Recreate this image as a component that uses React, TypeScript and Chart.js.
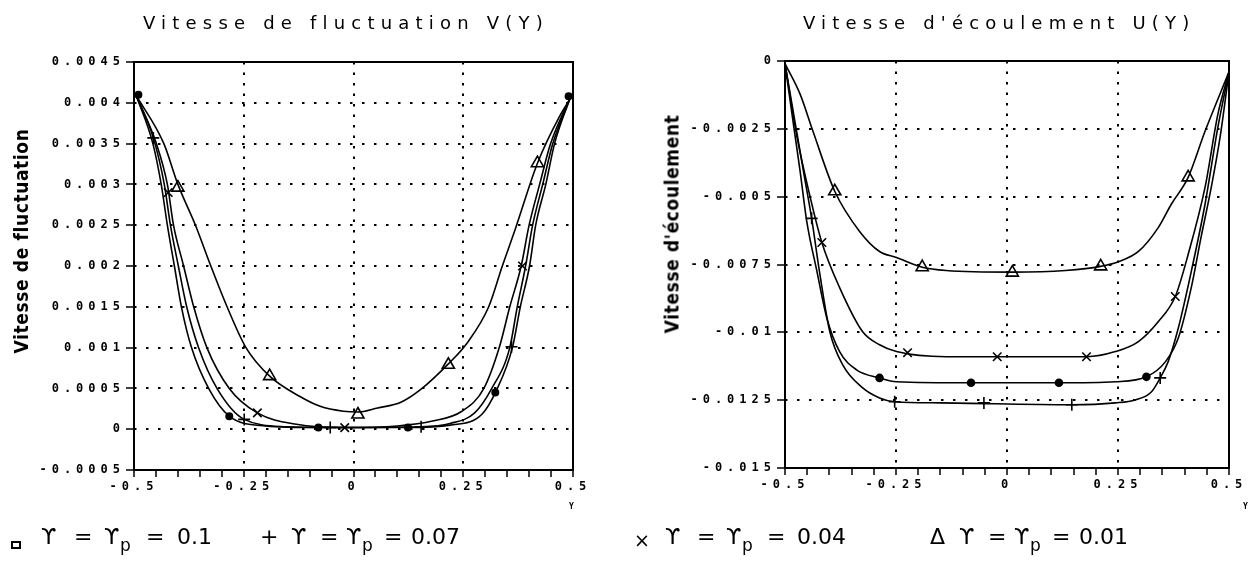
import React, { useEffect, useRef } from "react";
import { Chart, registerables } from "chart.js";

Chart.register(...registerables);

// ---------- axis ticks ----------
const X_TICKS = [-0.5, -0.45, -0.4, -0.35, -0.3, -0.25, -0.2, -0.15, -0.1, -0.05, 0, 0.05, 0.1, 0.15, 0.2, 0.25, 0.3, 0.35, 0.4, 0.45, 0.5];
const X_MAJOR = [-0.5, -0.25, 0, 0.25, 0.5];
const X_MAJOR_LABELS = ["-0.5", "-0.25", "0", "0.25", "0.5"];

const V_TICKS = [-0.0005, 0, 0.0005, 0.001, 0.0015, 0.002, 0.0025, 0.003, 0.0035, 0.004, 0.0045];
const V_TICK_LABELS = ["-0.0005", "0", "0.0005", "0.001", "0.0015", "0.002", "0.0025", "0.003", "0.0035", "0.004", "0.0045"];
const U_TICKS = [-0.015, -0.0125, -0.01, -0.0075, -0.005, -0.0025, 0];
const U_TICK_LABELS = ["-0.015", "-0.0125", "-0.01", "-0.0075", "-0.005", "-0.0025", "0"];

// ---------- left chart: V(Y) curves ----------
const V_G01 = [[-0.495, 0.00409], [-0.457, 0.0035], [-0.438, 0.003], [-0.424, 0.0025], [-0.408, 0.002], [-0.392, 0.0015], [-0.369, 0.001], [-0.33, 0.0005], [-0.283, 0.00016], [-0.2, 0.00004], [-0.08, 0.00002], [0.124, 0.00002], [0.22, 0.00005], [0.292, 0.00018], [0.325, 0.00047], [0.362, 0.001], [0.38, 0.0015], [0.401, 0.002], [0.415, 0.0025], [0.438, 0.003], [0.458, 0.0035], [0.495, 0.00408]];
const V_G007 = [[-0.495, 0.00409], [-0.456, 0.00357], [-0.431, 0.003], [-0.417, 0.0025], [-0.399, 0.002], [-0.38, 0.0015], [-0.353, 0.001], [-0.311, 0.0005], [-0.249, 0.00012], [-0.15, 0.00003], [-0.053, 0.00002], [0.154, 0.00003], [0.22, 0.00007], [0.276, 0.0002], [0.315, 0.0005], [0.356, 0.001], [0.373, 0.0015], [0.392, 0.002], [0.408, 0.0025], [0.431, 0.003], [0.454, 0.0035], [0.495, 0.00408]];
const V_G004 = [[-0.495, 0.00409], [-0.449, 0.0035], [-0.424, 0.003], [-0.41, 0.0025], [-0.387, 0.002], [-0.364, 0.0015], [-0.334, 0.001], [-0.283, 0.0005], [-0.219, 0.0002], [-0.13, 0.00006], [-0.02, 0.00002], [0.1, 0.00004], [0.18, 0.0001], [0.247, 0.00022], [0.297, 0.0005], [0.332, 0.001], [0.356, 0.0015], [0.382, 0.002], [0.4, 0.0025], [0.424, 0.003], [0.449, 0.0035], [0.495, 0.00408]];
const V_G001 = [[-0.495, 0.00409], [-0.432, 0.0035], [-0.4, 0.003], [-0.36, 0.0025], [-0.325, 0.002], [-0.288, 0.0015], [-0.245, 0.001], [-0.191, 0.00065], [-0.122, 0.0004], [-0.076, 0.00028], [-0.023, 0.00022], [0.01, 0.00021], [0.055, 0.00026], [0.108, 0.00033], [0.154, 0.00049], [0.216, 0.0008], [0.258, 0.00105], [0.308, 0.0015], [0.339, 0.002], [0.369, 0.00246], [0.419, 0.00326], [0.47, 0.00384], [0.495, 0.00406]];

const V_M01 = [[-0.49, 0.0041], [-0.283, 0.00016], [-0.08, 0.00002], [0.124, 0.00002], [0.323, 0.00045], [0.49, 0.00408]];
const V_M007 = [[-0.456, 0.00357], [-0.249, 0.00012], [-0.053, 0.00002], [0.154, 0.00003], [0.36, 0.00101]];
const V_M004 = [[-0.422, 0.0029], [-0.219, 0.0002], [-0.02, 0.00002], [0.385, 0.002]];
const V_M001 = [[-0.4, 0.00296], [-0.191, 0.00065], [0.01, 0.00018], [0.216, 0.00079], [0.419, 0.00326]];

// ---------- right chart: U(Y) curves ----------
const U_G01 = [[-0.5, -0.0001], [-0.482, -0.00222], [-0.466, -0.00406], [-0.451, -0.00591], [-0.428, -0.00776], [-0.406, -0.00946], [-0.377, -0.01071], [-0.339, -0.01138], [-0.287, -0.01168], [-0.249, -0.01182], [-0.081, -0.01186], [0.117, -0.01186], [0.244, -0.01182], [0.314, -0.01164], [0.357, -0.01108], [0.386, -0.0102], [0.415, -0.00835], [0.437, -0.0065], [0.46, -0.00466], [0.48, -0.0028], [0.5, -0.0004]];
const U_G007 = [[-0.5, -0.0001], [-0.478, -0.0022], [-0.458, -0.0041], [-0.44, -0.0058], [-0.422, -0.0078], [-0.399, -0.00998], [-0.37, -0.0112], [-0.325, -0.01205], [-0.287, -0.01242], [-0.253, -0.01256], [-0.15, -0.0126], [0.146, -0.01267], [0.244, -0.0126], [0.289, -0.01249], [0.325, -0.0122], [0.345, -0.01168], [0.363, -0.01108], [0.386, -0.00983], [0.415, -0.00776], [0.446, -0.00528], [0.475, -0.00244], [0.5, -0.0004]];
const U_G004 = [[-0.5, -0.0001], [-0.473, -0.0028], [-0.445, -0.0049], [-0.417, -0.00669], [-0.377, -0.00835], [-0.325, -0.00998], [-0.287, -0.01046], [-0.249, -0.01071], [-0.137, -0.0109], [0.179, -0.0109], [0.244, -0.01071], [0.296, -0.01034], [0.341, -0.0096], [0.379, -0.00868], [0.408, -0.00713], [0.446, -0.00466], [0.475, -0.00196], [0.5, -0.0004]];
const U_G001 = [[-0.5, -0.0001], [-0.466, -0.00122], [-0.437, -0.00259], [-0.388, -0.0048], [-0.332, -0.00628], [-0.287, -0.00702], [-0.249, -0.00724], [-0.191, -0.0076], [-0.137, -0.00772], [0.012, -0.00778], [0.132, -0.00772], [0.211, -0.00757], [0.251, -0.0074], [0.296, -0.00702], [0.341, -0.00613], [0.37, -0.00528], [0.408, -0.00429], [0.446, -0.00259], [0.5, -0.0004]];

const U_M01 = [[-0.287, -0.01168], [-0.081, -0.01186], [0.117, -0.01186], [0.314, -0.01164]];
const U_M007 = [[-0.44, -0.0058], [-0.253, -0.01256], [-0.052, -0.0126], [0.146, -0.01267], [0.345, -0.01168]];
const U_M004 = [[-0.417, -0.00669], [-0.224, -0.01075], [-0.022, -0.0109], [0.179, -0.0109], [0.379, -0.00868]];
const U_M001 = [[-0.388, -0.0048], [-0.191, -0.0076], [0.012, -0.0078], [0.211, -0.00757], [0.408, -0.00429]];

const LEGEND_VALUES = ["0.1", "0.07", "0.04", "0.01"];

const MONO = '"DejaVu Sans Mono", monospace';
const SANS = '"DejaVu Sans", sans-serif';

const toPts = (a: number[][]) => a.map(([x, y]) => ({ x, y }));
const near = (a: number, b: number) => Math.abs(a - b) < 1e-9;

const framePlugin = {
  id: "frame",
  beforeDraw(chart: any) {
    chart.ctx.letterSpacing = "5px";
  },
  afterDatasetsDraw(chart: any) {
    const { ctx, chartArea: a } = chart;
    ctx.save();
    ctx.strokeStyle = "#000";
    ctx.lineWidth = 2;
    ctx.setLineDash([]);
    ctx.strokeRect(a.left, a.top, a.right - a.left, a.bottom - a.top);
    ctx.restore();
  },
};

function curve(data: number[][]) {
  return {
    data: toPts(data),
    showLine: true,
    borderColor: "#000",
    borderWidth: 1.6,
    pointRadius: 0,
    cubicInterpolationMode: "monotone",
    fill: false,
  };
}

function markers(data: number[][], style: string, radius: number, filled: boolean) {
  return {
    data: toPts(data),
    showLine: false,
    pointStyle: style,
    pointRadius: radius,
    pointBorderWidth: 1.6,
    borderColor: "#000",
    pointBorderColor: "#000",
    pointBackgroundColor: filled ? "#000" : "rgba(0,0,0,0)",
    backgroundColor: filled ? "#000" : "rgba(0,0,0,0)",
    clip: false,
  };
}

function makeConfig(p: {
  datasets: any[];
  yMin: number;
  yMax: number;
  yTicks: number[];
  yLabels: string[];
  yWidth: number;
  padding: any;
}) {
  const tickFont = { family: MONO, size: 12, weight: "bold" as const };
  return {
    type: "scatter" as const,
    data: { datasets: p.datasets },
    options: {
      animation: false,
      responsive: false,
      devicePixelRatio: 1,
      layout: { padding: p.padding },
      plugins: { legend: { display: false }, tooltip: { enabled: false }, title: { display: false } },
      scales: {
        x: {
          type: "linear",
          min: -0.5,
          max: 0.5,
          afterBuildTicks: (s: any) => {
            s.ticks = X_TICKS.map((v) => ({ value: v }));
          },
          afterFit: (s: any) => {
            s.height = 40;
          },
          border: { display: false, dash: [2.5, 8] },
          grid: {
            color: (c: any) => {
              const v = c.tick ? c.tick.value : 999;
              return near(v, -0.25) || near(v, 0) || near(v, 0.25) ? "#000" : "rgba(0,0,0,0)";
            },
            lineWidth: 2,
            tickLength: 7,
            tickColor: "#000",
            tickWidth: 1.5,
            tickBorderDash: [],
          },
          ticks: {
            autoSkip: false,
            maxRotation: 0,
            padding: 3,
            color: "#000",
            font: tickFont,
            callback: (v: any) => {
              const i = X_MAJOR.findIndex((m) => near(m, Number(v)));
              return i >= 0 ? X_MAJOR_LABELS[i] : "";
            },
          },
        },
        y: {
          type: "linear",
          min: p.yMin,
          max: p.yMax,
          afterBuildTicks: (s: any) => {
            s.ticks = p.yTicks.map((v) => ({ value: v }));
          },
          afterFit: (s: any) => {
            s.width = p.yWidth;
          },
          border: { display: false, dash: [2.5, 9.5] },
          grid: {
            color: (c: any) => {
              const v = c.tick ? c.tick.value : p.yMin;
              return near(v, p.yMin) || near(v, p.yMax) ? "rgba(0,0,0,0)" : "#000";
            },
            lineWidth: 2,
            tickLength: 8,
            tickColor: "#000",
            tickWidth: 1.5,
            tickBorderDash: [],
          },
          ticks: {
            autoSkip: false,
            padding: 1,
            color: "#000",
            font: tickFont,
            callback: (v: any) => {
              const i = p.yTicks.findIndex((m) => near(m, Number(v)));
              return i >= 0 ? p.yLabels[i] : "";
            },
          },
        },
      },
    },
    plugins: [framePlugin],
  };
}

const titleStyle: React.CSSProperties = {
  position: "absolute",
  top: 14,
  fontFamily: SANS,
  fontSize: 18,
  lineHeight: "18px",
  letterSpacing: "6.2px",
  whiteSpace: "nowrap",
  color: "#000",
};

const axisTitleStyle = (cx: number, cy: number): React.CSSProperties => ({
  position: "absolute",
  left: cx,
  top: cy,
  transform: "translate(-50%, -50%) rotate(-90deg)",
  fontFamily: '"DejaVu Sans Condensed", "DejaVu Sans", sans-serif',
  fontStretch: "condensed",
  fontWeight: "bold",
  fontSize: 19,
  lineHeight: "19px",
  letterSpacing: "0.6px",
  whiteSpace: "nowrap",
  color: "#000",
});

const legendText: React.CSSProperties = {
  position: "absolute",
  top: 526,
  fontFamily: SANS,
  fontSize: 22,
  lineHeight: "22px",
  whiteSpace: "nowrap",
  color: "#000",
};

function LegendItem({ left, gap, symbol, value }: { left: number; gap: number; symbol: React.ReactNode; value: string }) {
  return (
    <>
      {symbol}
      <span style={{ ...legendText, left: left + 29 }}>ϒ</span>
      <span style={{ ...legendText, left: left + 29 + gap }}>=</span>
      <span style={{ ...legendText, left: left + 29 + 2 * gap - 3 }}>ϒ</span>
      <span style={{ ...legendText, left: left + 45 + 2 * gap - 3, top: 534, fontSize: 17 }}>p</span>
      <span style={{ ...legendText, left: left + 29 + 3 * gap + 6 }}>=</span>
      <span style={{ ...legendText, left: left + 29 + 4 * gap + 4 }}>{value}</span>
    </>
  );
}

export default function App() {
  const leftRef = useRef<HTMLCanvasElement>(null);
  const rightRef = useRef<HTMLCanvasElement>(null);

  useEffect(() => {
    const left = new Chart(
      leftRef.current as HTMLCanvasElement,
      makeConfig({
        datasets: [
          curve(V_G01),
          curve(V_G007),
          curve(V_G004),
          curve(V_G001),
          markers(V_M01, "circle", 3.2, true),
          markers(V_M007, "cross", 6, false),
          markers(V_M004, "crossRot", 6, false),
          markers(V_M001, "triangle", 7, false),
        ],
        yMin: -0.0005,
        yMax: 0.0045,
        yTicks: V_TICKS,
        yLabels: V_TICK_LABELS,
        yWidth: 134,
        padding: { left: 0, top: 62, right: 27, bottom: 59 },
      }) as any
    );
    const right = new Chart(
      rightRef.current as HTMLCanvasElement,
      makeConfig({
        datasets: [
          curve(U_G01),
          curve(U_G007),
          curve(U_G004),
          curve(U_G001),
          markers(U_M01, "circle", 3.5, true),
          markers(U_M007, "cross", 6, false),
          markers(U_M004, "crossRot", 6, false),
          markers(U_M001, "triangle", 7, false),
        ],
        yMin: -0.015,
        yMax: 0,
        yTicks: U_TICKS,
        yLabels: U_TICK_LABELS,
        yWidth: 185,
        padding: { left: 0, top: 61, right: 28, bottom: 61 },
      }) as any
    );
    return () => {
      left.destroy();
      right.destroy();
    };
  }, []);

  return (
    <div style={{ position: "fixed", left: 0, top: 0, width: 1257, height: 569, background: "#fff", overflow: "hidden" }}>
      <canvas ref={leftRef} width={600} height={569} style={{ position: "absolute", left: 0, top: 0, width: 600, height: 569 }} />
      <canvas ref={rightRef} width={657} height={569} style={{ position: "absolute", left: 600, top: 0, width: 657, height: 569 }} />

      <div style={{ ...titleStyle, left: 143 }}>Vitesse de fluctuation V(Y)</div>
      <div style={{ ...titleStyle, left: 803 }}>Vitesse d'écoulement U(Y)</div>

      <div style={axisTitleStyle(21, 241)}>Vitesse de fluctuation</div>
      <div style={axisTitleStyle(672, 224)}>Vitesse d'écoulement</div>

      <div style={{ position: "absolute", left: 569, top: 503, fontFamily: MONO, fontWeight: "bold", fontSize: 8, lineHeight: "8px" }}>Y</div>
      <div style={{ position: "absolute", left: 1243, top: 503, fontFamily: MONO, fontWeight: "bold", fontSize: 8, lineHeight: "8px" }}>Y</div>

      <LegendItem
        left={12}
        gap={33}
        value={LEGEND_VALUES[0]}
        symbol={<span style={{ position: "absolute", left: 11, top: 541, width: 6, height: 4, border: "2px solid #000" }} />}
      />
      <LegendItem left={262} gap={29} value={LEGEND_VALUES[1]} symbol={<span style={{ ...legendText, left: 260 }}>+</span>} />
      <LegendItem left={636} gap={32} value={LEGEND_VALUES[2]} symbol={<span style={{ ...legendText, left: 634, fontSize: 19, top: 529 }}>×</span>} />
      <LegendItem left={930} gap={29} value={LEGEND_VALUES[3]} symbol={<span style={{ ...legendText, left: 930 }}>Δ</span>} />
    </div>
  );
}
